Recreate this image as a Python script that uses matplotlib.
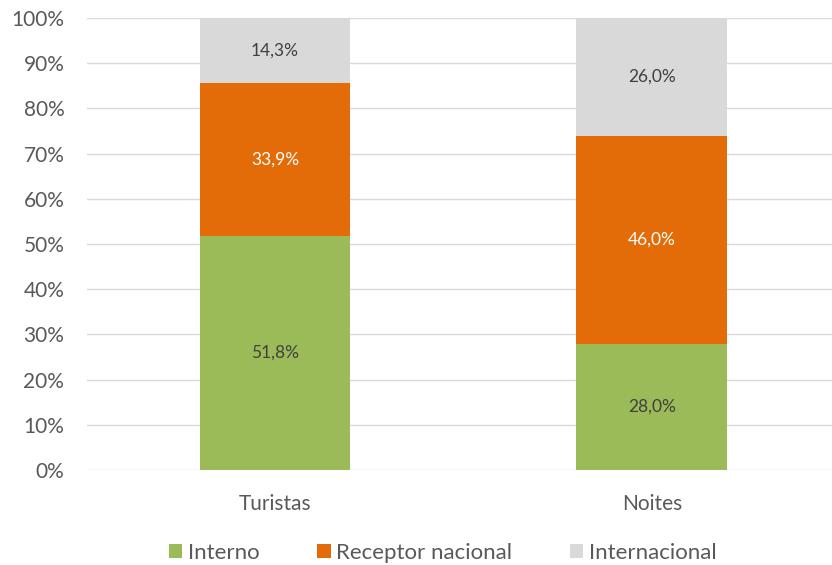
import matplotlib
matplotlib.use("Agg")
import matplotlib.pyplot as plt
import numpy as np
from matplotlib.ticker import PercentFormatter

plt.rcParams['font.family'] = ['Lato', 'DejaVu Sans']

categories = ["Turistas", "Noites"]
interno = [51.8, 28.0]
receptor = [33.9, 46.0]
internacional = [14.3, 26.0]
series_names = ["Interno", "Receptor nacional", "Internacional"]
colors = ["#9BBB59", "#E36C09", "#D9D9D9"]
label_colors = ["#404040", "white", "#404040"]

fig = plt.figure(figsize=(8.32, 5.65), dpi=100)
ax = fig.add_axes([0.104, 0.168, 0.906, 0.80])

x = np.arange(len(categories))
width = 0.4
bottom = np.zeros(len(categories))
for vals, name, c, lc in zip([interno, receptor, internacional], series_names, colors, label_colors):
    vals = np.array(vals)
    ax.bar(x, vals, width, bottom=bottom, color=c, label=name, zorder=3)
    for xi, v, b in zip(x, vals, bottom):
        ax.text(xi, b + v / 2, f"{v:.1f}%".replace(".", ","), ha="center", va="center",
                color=lc, fontsize=12.5)
    bottom += vals

ax.set_xlim(-0.5, 1.5)
ax.set_ylim(0, 100)
ax.set_yticks(np.arange(0, 101, 10))
ax.yaxis.set_major_formatter(PercentFormatter(decimals=0))
ax.set_xticks(x)
ax.set_xticklabels(categories)
ax.grid(axis="y", color="#D9D9D9", linewidth=1, zorder=0)
for s in ax.spines.values():
    s.set_visible(False)
ax.tick_params(axis="both", length=0, labelsize=15, colors="#595959")
ax.tick_params(axis="x", pad=17)
ax.tick_params(axis="y", pad=16)

leg = fig.legend(loc="lower center", bbox_to_anchor=(0.532, -0.032), ncol=3, frameon=False,
                 fontsize=16, handlelength=0.6, handleheight=0.6, handletextpad=0.25,
                 columnspacing=2.6)
for t in leg.get_texts():
    t.set_color("#595959")

fig.savefig("out.png", dpi=100)
